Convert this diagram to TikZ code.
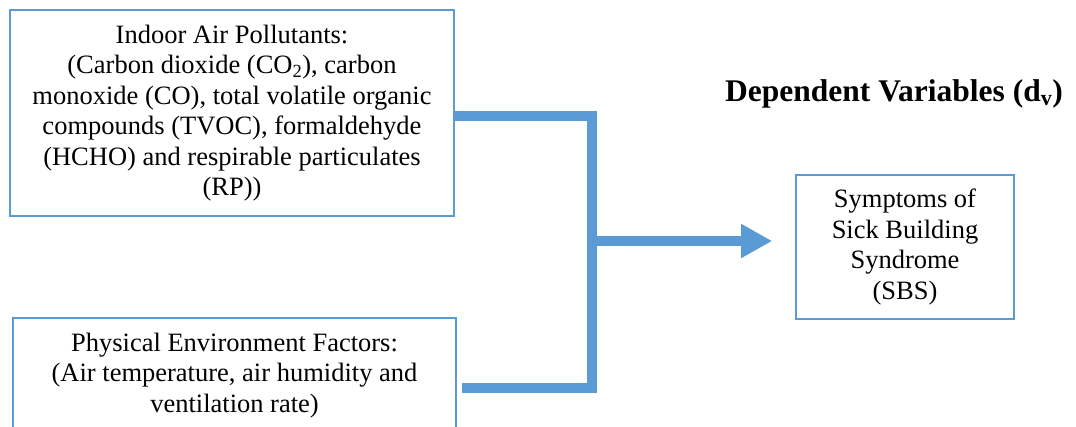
\documentclass[tikz,border=0pt]{standalone}
\usepackage{fontspec}
\setmainfont{Liberation Serif}
\usetikzlibrary{arrows.meta,calc}
\definecolor{officeblue}{HTML}{5B9BD5}
\begin{document}
\begin{tikzpicture}[x=1pt,y=-1pt,
  box/.style={draw=officeblue,line width=1.6pt,rectangle,inner sep=0pt,align=center,
    font=\fontsize{26.5}{30.5}\selectfont},
  link/.style={draw=officeblue,line width=10.5pt,line join=miter,line cap=butt},
  titletext/.style={font=\fontsize{31.5}{35}\selectfont\bfseries,inner sep=0pt}]
\useasboundingbox (0,0) rectangle (1076,427);
\node[box,minimum width=444pt,minimum height=206pt] (b1) at (232,113)
  {Indoor Air Pollutants:\\(Carbon dioxide (CO\textsubscript{2}), carbon\\monoxide (CO), total volatile organic\\compounds (TVOC), formaldehyde\\(HCHO) and respirable particulates\\(RP))};
\node[box,minimum width=443pt,minimum height=115pt] (b2) at (234.5,375.5)
  {Physical Environment Factors:\\(Air temperature, air humidity and\\ventilation rate)};
\node[box,minimum width=218pt,minimum height=144pt] (b3) at (905,247)
  {Symptoms of\\Sick Building\\Syndrome\\(SBS)};
\node[titletext,anchor=base] (t) at (894,101.7) {Dependent Variables (d\textsubscript{v})};
\coordinate (s1) at ($(b1.east)+(-2,3)$);
\coordinate (s2) at ($(b2.east)+(5,12.5)$);
\coordinate (j) at (592,241);
\draw[link] (s1) -- (s1 -| j) -- (s2 -| j) -- (s2);
\draw[link,-{Triangle[length=31pt,width=32pt]}] (j) -- ($(b3.west |- j)+(-23,0)$);
\end{tikzpicture}
\end{document}
